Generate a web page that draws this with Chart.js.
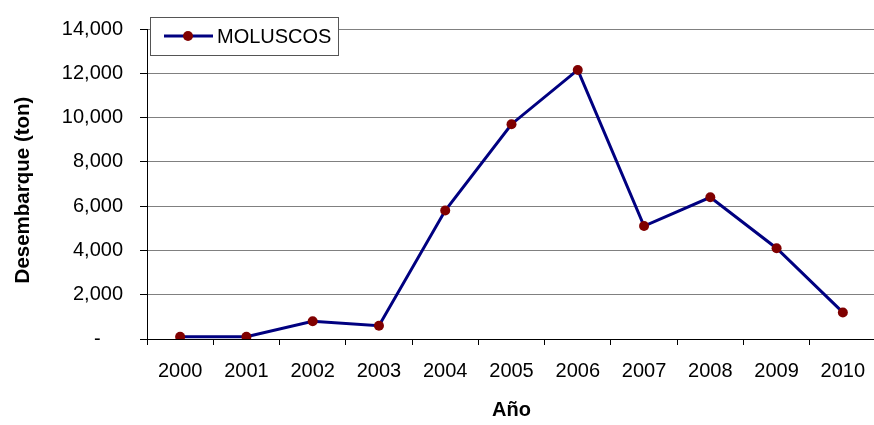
<!DOCTYPE html>
<html>
<head>
<meta charset="utf-8">
<script src="https://cdn.jsdelivr.net/npm/chart.js@4/dist/chart.umd.min.js"></script>
<style>
  html, body { margin: 0; padding: 0; background: #fff; overflow: hidden; }
  #wrap { position: relative; width: 881px; height: 425px; }
</style>
</head>
<body>
<div id="wrap"><canvas id="chart"></canvas></div>
<script>
// Landings by year
const years = ['2000', '2001', '2002', '2003', '2004', '2005', '2006', '2007', '2008', '2009', '2010'];
const moluscos = [100, 100, 800, 600, 5800, 9700, 12150, 5100, 6400, 4100, 1200];
const yTicks = [0, 2000, 4000, 6000, 8000, 10000, 12000, 14000];
const yTitle = 'Desembarque (ton)';

const FONT = "'Liberation Sans', Arial, sans-serif";

// Boxed legend inside the plot (top left) and the rotated y-axis title
const extras = {
  id: 'extras',
  afterDraw(chart) {
    const ctx = chart.ctx;
    const ds = chart.data.datasets[0];
    const x = 150, y = 17, w = 188, h = 38;
    ctx.save();
    ctx.fillStyle = '#fff';
    ctx.fillRect(x, y, w, h);
    ctx.strokeStyle = '#555';
    ctx.lineWidth = 1;
    ctx.strokeRect(x + 0.5, y + 0.5, w, h);
    const cy = y + 19;
    ctx.strokeStyle = ds.borderColor;
    ctx.lineWidth = ds.borderWidth;
    ctx.beginPath();
    ctx.moveTo(x + 14, cy);
    ctx.lineTo(x + 63, cy);
    ctx.stroke();
    ctx.fillStyle = ds.pointBackgroundColor;
    ctx.beginPath();
    ctx.arc(x + 38, cy, ds.pointRadius, 0, Math.PI * 2);
    ctx.fill();
    ctx.fillStyle = '#000';
    ctx.font = '20px ' + FONT;
    ctx.textBaseline = 'middle';
    ctx.textAlign = 'left';
    ctx.fillText(ds.label, x + 67, cy + 1);

    // y-axis title, a little below the plot's middle
    ctx.translate(23, 190);
    ctx.rotate(-Math.PI / 2);
    ctx.font = 'bold 20.5px ' + FONT;
    ctx.textAlign = 'center';
    ctx.fillText(yTitle, 0, 0);
    ctx.restore();
  }
};

new Chart(document.getElementById('chart'), {
  type: 'line',
  data: {
    labels: years,
    datasets: [{
      label: 'MOLUSCOS',
      data: moluscos,
      borderColor: '#000080',
      borderWidth: 3,
      tension: 0,
      pointRadius: 5,
      pointBorderWidth: 0,
      pointBackgroundColor: '#800000',
      pointBorderColor: '#800000'
    }]
  },
  options: {
    responsive: true,
    maintainAspectRatio: false,
    animation: false,
    layout: { padding: { top: 16, left: 0, right: 0, bottom: 0 } },
    plugins: {
      legend: { display: false },
      tooltip: { enabled: false }
    },
    scales: {
      x: {
        type: 'category',
        offset: true,
        afterFit(scale) { scale.height = 86; },
        grid: {
          offset: true,
          drawOnChartArea: false,
          drawTicks: true,
          tickLength: 6,
          color: '#000'
        },
        border: { color: '#000', width: 1 },
        ticks: {
          color: '#000',
          font: { family: FONT, size: 20 },
          padding: 14,
          maxRotation: 0,
          autoSkip: false
        },
        title: {
          display: true,
          text: 'Año',
          color: '#000',
          font: { family: FONT, size: 20, weight: 'bold' },
          padding: { top: 0, bottom: 3 }
        }
      },
      y: {
        min: 0,
        max: 14000,
        afterFit(scale) { scale.width = 147; },
        afterBuildTicks(scale) { scale.ticks = yTicks.map(v => ({ value: v })); },
        grid: {
          color: '#808080',
          tickColor: '#000',
          tickLength: 7,
          drawTicks: true
        },
        border: { color: '#000', width: 1 },
        ticks: {
          color: '#000',
          font: { family: FONT, size: 20 },
          padding: 17,
          callback: v => v === 0 ? '-    ' : v.toLocaleString('en-US')
        }
      }
    }
  },
  plugins: [extras]
});
</script>
</body>
</html>
